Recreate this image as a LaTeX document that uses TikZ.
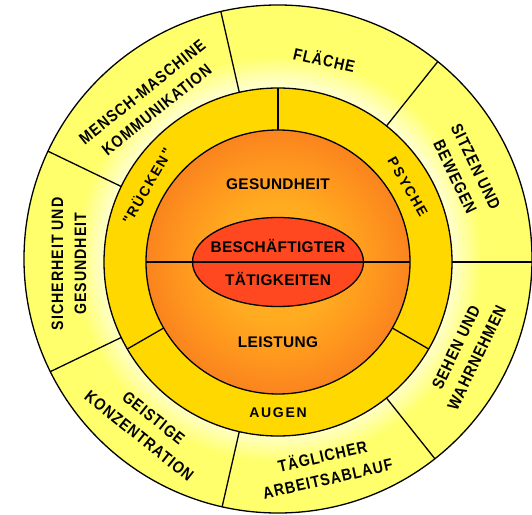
\documentclass[tikz,border=0pt]{standalone}
\usepackage{fontspec}
\setmainfont{Liberation Sans}
\newfontfamily\outerfont[LetterSpace=6,FakeStretch=0.86]{Liberation Sans}
\newfontfamily\ringfont[LetterSpace=12]{Liberation Sans}
\newfontfamily\corefont[LetterSpace=2]{Liberation Sans}

\definecolor{ringyellow}{RGB}{255,255,108}
\definecolor{ringpale}{RGB}{255,255,200}
\definecolor{ringgold}{RGB}{255,216,0}
\definecolor{coreinner}{RGB}{255,172,32}
\definecolor{coremid}{RGB}{255,152,30}
\definecolor{coreouter}{RGB}{250,132,30}
\definecolor{corered}{RGB}{255,72,32}

% pale band along the inner edge of the outer ring (path edge = 25bp)
\pgfdeclareradialshading{outerband}{\pgfpoint{0bp}{0bp}}{%
  color(0bp)=(ringpale); color(17.3bp)=(ringpale);
  color(20bp)=(ringyellow); color(25bp)=(ringyellow); color(50bp)=(ringyellow)}
% warm glow around the central ellipse
\pgfdeclareradialshading{coreglow}{\pgfpoint{0bp}{0bp}}{%
  color(0bp)=(coreinner); color(11bp)=(coreinner); color(18bp)=(coremid);
  color(25bp)=(coreouter); color(50bp)=(coreouter)}

\tikzset{
  rim/.style={line width=1.3pt, draw=black},
  outerlbl/.style={font=\outerfont\bfseries\fontsize{16.5}{23}\selectfont,
    align=center, inner sep=0pt},
  ringlbl/.style={font=\ringfont\bfseries\fontsize{14}{16}\selectfont,
    inner sep=0pt, text height=10pt, text depth=0pt},
  corelbl/.style={font=\corefont\bfseries\fontsize{15.4}{18}\selectfont,
    inner sep=0pt, anchor=base}
}

\begin{document}
\begin{tikzpicture}[x=1pt,y=1pt]
\useasboundingbox (-278,-252) rectangle (254,262);
\fill[white] (-278,-252) rectangle (254,262);

% outer ring with seven fields
\path[shading=outerband] (0,3) circle (254);
\begin{scope}
  \clip (0,3) circle (254);
  \foreach \k in {0,...,6}
    \draw[rim] ({\k*360/7}:174) -- ({\k*360/7}:262);
\end{scope}
\draw[rim] (0,3) circle (254);

% gold ring with three fields
\fill[ringgold] (0,0) circle (174);
\draw[rim] (0,0) circle (174);
\foreach \a in {90,210,330}
  \draw[rim] (\a:132) -- (\a:174);

% orange core
\path[shading=coreglow] (0,0) circle (132);
\draw[rim] (0,0) circle (132);
\fill[corered] (0,0) ellipse (85.5 and 44.5);
\draw[rim] (180:132) -- (0:132);
\draw[rim] (0,0) ellipse (85.5 and 44.5);

% outer ring labels
\node[outerlbl, rotate=-64.3] (sitzen) at (25.7:208) {SITZEN UND\\BEWEGEN};
\node[outerlbl, rotate=-12.9] (flaeche) at (77.1:208) {FLÄCHE};
\node[outerlbl, rotate=38.6] (mensch) at (128.6:206) {MENSCH-MASCHINE\\KOMMUNIKATION};
\node[outerlbl, rotate=90] (sicherheit) at (180.5:209) {SICHERHEIT UND\\GESUNDHEIT};
\node[outerlbl, rotate=-38.6] (geistig) at (231.4:211) {GEISTIGE\\KONZENTRATION};
\node[outerlbl, rotate=12.9] (taeglich) at (282.9:210) {TÄGLICHER\\ARBEITSABLAUF};
\node[outerlbl, rotate=64.3] (sehen) at (334.3:209) {SEHEN UND\\WAHRNEHMEN};

% gold ring labels
\node[ringlbl, rotate=60] (ruecken) at (150:151) {"RÜCKEN"};
\node[ringlbl, rotate=-60] (psyche) at (30:150) {PSYCHE};
\node[ringlbl] (augen) at (270:150) {AUGEN};

% core labels
\node[corelbl] (gesundheit) at (0,72.7) {GESUNDHEIT};
\node[corelbl] (beschaeftigter) at (0,9.3) {BESCHÄFTIGTER};
\node[corelbl] (taetigkeiten) at (0,-23) {TÄTIGKEITEN};
\node[corelbl] (leistung) at (0,-85.3) {LEISTUNG};
\end{tikzpicture}
\end{document}
